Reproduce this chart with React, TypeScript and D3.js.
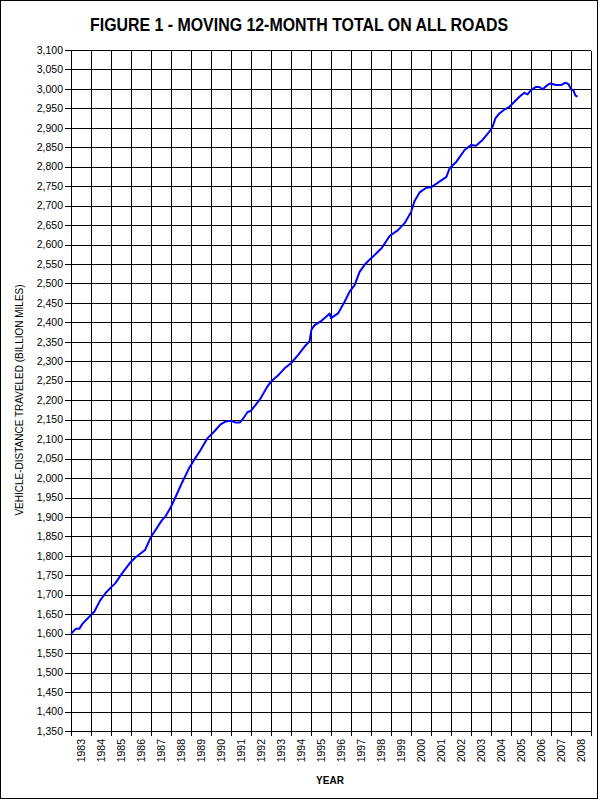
import React from "react";
import * as d3 from "d3";

const title = "FIGURE 1 - MOVING 12-MONTH TOTAL ON ALL ROADS";
const yTitle = "VEHICLE-DISTANCE TRAVELED (BILLION MILES)";
const xTitle = "YEAR";

const yearLabels = [
  "1983", "1984", "1985", "1986", "1987", "1988", "1989", "1990", "1991",
  "1992", "1993", "1994", "1995", "1996", "1997", "1998", "1999", "2000",
  "2001", "2002", "2003", "2004", "2005", "2006", "2007", "2008",
];

const yTicks = d3.range(1350, 3101, 50);

// decimal year of each reading
const times = [
  1983.0, 1983.25, 1983.42, 1983.58, 1984.0, 1984.17, 1984.45, 1984.72, 1985.0,
  1985.22, 1985.55, 1985.8, 1986.0, 1986.22, 1986.7, 1987.0, 1987.22, 1987.55,
  1987.72, 1988.0, 1988.2, 1988.57, 1988.9, 1989.15, 1989.48, 1989.82, 1990.15,
  1990.48, 1990.73, 1991.0, 1991.2, 1991.45, 1991.57, 1991.82, 1992.0, 1992.23,
  1992.48, 1992.82, 1993.0, 1993.32, 1993.68, 1994.0, 1994.35, 1994.68, 1994.93,
  1995.02, 1995.18, 1995.52, 1995.77, 1995.93, 1996.0, 1996.35, 1996.68, 1996.93,
  1997.18, 1997.43, 1997.68, 1998.0, 1998.1, 1998.43, 1998.52, 1998.93, 1999.35,
  1999.68, 2000.0, 2000.18, 2000.43, 2000.77, 2001.0, 2001.35, 2001.77, 2001.93,
  2002.27, 2002.68, 2003.0, 2003.25, 2003.58, 2003.92, 2004.08, 2004.22, 2004.42,
  2004.67, 2004.92, 2005.17, 2005.42, 2005.67, 2005.83, 2006.0, 2006.25, 2006.42,
  2006.58, 2006.75, 2006.95, 2007.25, 2007.5, 2007.72, 2007.88, 2008.0, 2008.12,
  2008.22, 2008.33,
];

// moving 12-month total, billion miles
const vmt = [
  1600, 1613, 1613, 1626, 1648, 1657, 1685, 1704, 1719,
  1730, 1755, 1772, 1785, 1796, 1815, 1849, 1866, 1892,
  1901, 1926, 1948, 1990, 2025, 2046, 2072, 2102, 2119,
  2138, 2145, 2147, 2143, 2143, 2150, 2169, 2173, 2188,
  2205, 2235, 2248, 2262, 2282, 2295, 2316, 2338, 2352,
  2381, 2393, 2404, 2415, 2423, 2411, 2423, 2453, 2479,
  2496, 2530, 2548, 2565, 2569, 2586, 2590, 2622, 2637,
  2655, 2683, 2712, 2734, 2746, 2747, 2759, 2774, 2796,
  2813, 2843, 2856, 2854, 2869, 2890, 2903, 2924, 2937,
  2947, 2954, 2967, 2980, 2990, 2986, 2997, 3005, 3005,
  2999, 3007, 3014, 3010, 3010, 3016, 3012, 2999, 2997,
  2983, 2980,
];

const W = 600;
const H = 800;
const left = 71;
const right = 591;
const top = 50;
const bottom = 731;
const font = "'Liberation Sans', Arial, sans-serif";

export default function App() {
  const x = d3.scaleLinear().domain([1983, 1983 + yearLabels.length]).range([left, right]);
  const y = d3.scaleLinear().domain([1350, 3100]).range([bottom, top]);
  const px = (v: number) => Math.round(v) + 0.5;

  const pts: [number, number][] = times.map((t, i) => [x(t), y(vmt[i])]);
  const line = d3.line<[number, number]>().x((d) => d[0]).y((d) => d[1]);

  const gridYears = d3.range(0, yearLabels.length + 1).map((i) => 1983 + i);

  return (
    <div style={{ position: "absolute", left: 0, top: 0 }}>
      <svg width={W} height={H} style={{ display: "block", background: "#fff" }}>
        <rect x={0.5} y={0.5} width={597} height={798} fill="#fff" stroke="#000" strokeWidth={1} />
        <text
          x={299}
          y={31}
          textAnchor="middle"
          fontFamily={font}
          fontWeight="bold"
          fontSize={18}
          textLength={418}
          lengthAdjust="spacingAndGlyphs"
        >
          {title}
        </text>

        <g shapeRendering="crispEdges" stroke="#000" strokeWidth={1}>
          {yTicks.map((v) => (
            <line key={"h" + v} x1={65} x2={right} y1={px(y(v))} y2={px(y(v))} />
          ))}
          {gridYears.map((yr) => (
            <line key={"v" + yr} x1={px(x(yr))} x2={px(x(yr))} y1={px(top)} y2={px(bottom) + 4} />
          ))}
        </g>

        <g fontFamily={font} fontSize={10.5} fill="#000">
          {yTicks.map((v) => (
            <text key={"yl" + v} x={63} y={y(v)} dy="0.35em" textAnchor="end">
              {d3.format(",")(v)}
            </text>
          ))}
          {yearLabels.map((lab, i) => (
            <text
              key={"xl" + lab}
              transform={`translate(${x(1983 + i + 0.5) + 4},739) rotate(-90)`}
              textAnchor="end"
            >
              {lab}
            </text>
          ))}
        </g>

        <path d={line(pts) || ""} fill="none" stroke="#0000ff" strokeWidth={2} strokeLinejoin="round" />

        <text
          transform="translate(23,400) rotate(-90)"
          textAnchor="middle"
          fontFamily={font}
          fontSize={10}
        >
          {yTitle}
        </text>
        <text x={330} y={784} textAnchor="middle" fontFamily={font} fontWeight="bold" fontSize={10}>
          {xTitle}
        </text>
      </svg>
    </div>
  );
}
